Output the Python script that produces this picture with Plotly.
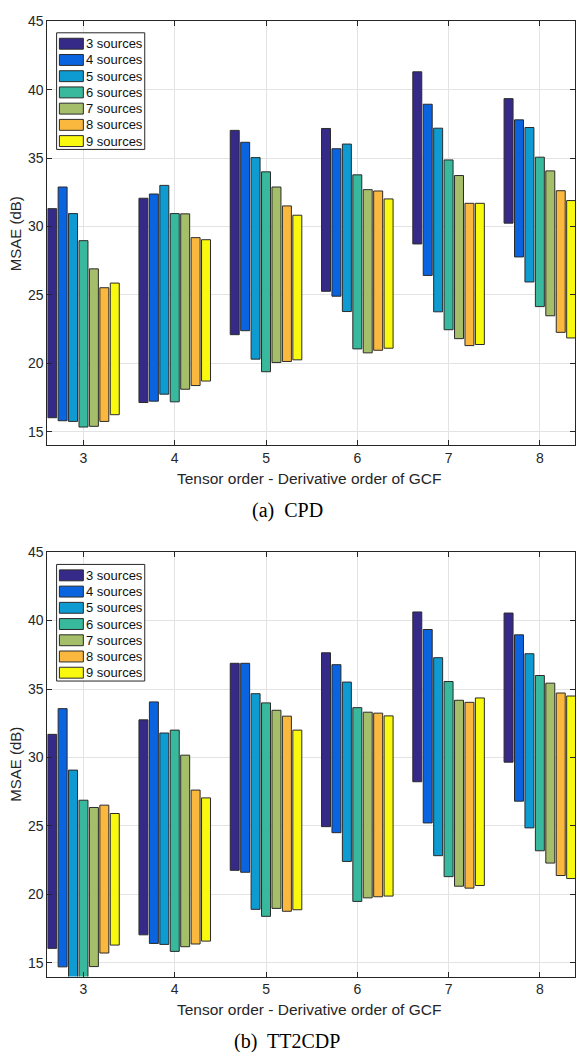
import plotly.graph_objects as go

# Tensor order - derivative order of GCF (x positions of the bar groups)
orders = [3, 4, 5, 6, 7, 8]
source_labels = ["3 sources", "4 sources", "5 sources", "6 sources",
                 "7 sources", "8 sources", "9 sources"]
colors = ["#352A87", "#0A63DF", "#0D9BD2", "#38B89C",
          "#A5BE6A", "#FBB83F", "#F9F90F"]

# CPD: upper / lower MSAE (dB) for each source count (rows) vs order (cols)
cpd_high = [
    [31.3, 32.06, 37.02, 37.16, 41.3, 39.34],
    [32.88, 32.37, 36.15, 35.68, 38.93, 37.79],
    [30.94, 33.0, 35.03, 36.02, 37.18, 37.23],
    [28.96, 30.94, 33.99, 33.77, 34.86, 35.06],
    [26.9, 30.92, 32.88, 32.69, 33.72, 34.06],
    [25.52, 29.18, 31.5, 32.59, 31.69, 32.61],
    [25.86, 29.03, 30.82, 32.01, 31.69, 31.89],
]
cpd_low = [
    [16.02, 17.13, 22.09, 25.26, 28.72, 30.24],
    [15.8, 17.23, 22.38, 24.9, 26.42, 27.77],
    [15.75, 17.74, 20.3, 23.78, 23.76, 25.94],
    [15.34, 17.18, 19.38, 21.05, 22.45, 24.14],
    [15.39, 18.1, 20.06, 20.76, 21.8, 23.47],
    [15.75, 18.37, 20.13, 20.95, 21.29, 22.26],
    [16.24, 18.7, 20.25, 21.1, 21.37, 21.85],
]

# TT2CDP: upper / lower MSAE (dB)
tt_high = [
    [31.69, 32.75, 36.88, 37.65, 40.63, 40.55],
    [33.57, 34.06, 36.88, 36.78, 39.35, 38.96],
    [29.08, 31.79, 34.66, 35.51, 37.29, 37.58],
    [26.88, 32.0, 33.99, 33.64, 35.55, 35.99],
    [26.35, 30.17, 33.45, 33.31, 34.18, 35.43],
    [26.52, 27.62, 33.02, 33.24, 34.03, 34.71],
    [25.91, 27.05, 32.0, 33.04, 34.35, 34.49],
]
tt_low = [
    [16.06, 17.05, 21.76, 24.95, 28.23, 29.66],
    [14.71, 16.42, 21.62, 24.51, 25.22, 26.81],
    [13.6, 16.35, 18.91, 22.41, 22.83, 24.86],
    [13.6, 15.84, 18.4, 19.49, 21.3, 23.19],
    [14.73, 16.18, 18.98, 19.75, 20.6, 22.29],
    [15.72, 16.38, 18.77, 19.83, 20.46, 21.38],
    [16.3, 16.59, 18.88, 19.88, 20.65, 21.16],
]

y_ticks = [15, 20, 25, 30, 35, 40, 45]

W, H = 576, 1052
INK = "#262626"
SANS = "Liberation Sans, Arial, Helvetica, sans-serif"
SERIF = "Liberation Serif, Times New Roman, serif"


def px(x):
    return x / W


def py(y):
    return 1 - y / H


fig = go.Figure()

panels = [
    ("x", "y", cpd_low, cpd_high),
    ("x2", "y2", tt_low, tt_high),
]
for xa, ya, lows, highs in panels:
    for i, label in enumerate(source_labels):
        fig.add_trace(go.Bar(
            x=orders,
            y=[h - l for h, l in zip(highs[i], lows[i])],
            base=lows[i],
            name=label,
            offsetgroup=str(i),
            marker=dict(color=colors[i], line=dict(color="#2b2b2b", width=1)),
            showlegend=False,
            xaxis=xa, yaxis=ya,
        ))

axis_common = dict(
    showline=True, linecolor=INK, linewidth=1, mirror="ticks",
    ticks="inside", ticklen=5, tickcolor=INK, tickwidth=1,
    showgrid=True, gridcolor="#e3e3e3", gridwidth=1,
    zeroline=False,
    tickfont=dict(family=SANS, size=14, color=INK),
)

x_dom = [px(47.5), 1.0]
top_dom = [py(440.7), py(13.3)]
bot_dom = [py(976.0), py(548.3)]

fig.update_layout(
    width=W, height=H,
    margin=dict(l=0, r=0, t=0, b=0),
    paper_bgcolor="white", plot_bgcolor="white",
    barmode="group", bargap=0.2, bargroupgap=0.14,
    showlegend=False,
    xaxis=dict(domain=x_dom, range=[2.605, 8.385], tickvals=orders,
               anchor="y", **axis_common),
    yaxis=dict(domain=top_dom, range=[14, 45], tickvals=y_ticks,
               anchor="x", **axis_common),
    xaxis2=dict(domain=x_dom, range=[2.605, 8.385], tickvals=orders,
                anchor="y2", **axis_common),
    yaxis2=dict(domain=bot_dom, range=[14, 45], tickvals=y_ticks,
                anchor="x2", **axis_common),
)

shapes = []
annotations = []

# Legends, axis titles and captions for both panels
panel_geom = [
    # legend box top, y-axis center, x-title y, caption y, caption text
    (25.0, 227.5, 474.0, 506.5, "(a)\u00a0 CPD"),
    (560.7, 762.0, 1009.0, 1041.0, "(b)\u00a0 TT2CDP"),
]
for box_top, ymid, xt_y, cap_y, caption in panel_geom:
    box_bottom = box_top + 117.5
    shapes.append(dict(
        type="rect", xref="paper", yref="paper", layer="above",
        x0=px(56.7), x1=px(145.0), y0=py(box_bottom), y1=py(box_top),
        line=dict(color=INK, width=1), fillcolor="white",
    ))
    for i, label in enumerate(source_labels):
        cy = box_top + 11.0 + i * 16.35
        shapes.append(dict(
            type="rect", xref="paper", yref="paper", layer="above",
            x0=px(59.5), x1=px(83.5), y0=py(cy + 5.5), y1=py(cy - 5.5),
            line=dict(color="#2b2b2b", width=1), fillcolor=colors[i],
        ))
        annotations.append(dict(
            text=label, xref="paper", yref="paper",
            x=px(84.5), y=py(cy), xanchor="left", yanchor="middle",
            showarrow=False, font=dict(family=SANS, size=13, color="#111111"),
        ))
    annotations.append(dict(
        text="MSAE (dB)", xref="paper", yref="paper", textangle=-90,
        x=px(15.5), y=py(ymid), xanchor="center", yanchor="middle",
        showarrow=False, font=dict(family=SANS, size=15, color=INK),
    ))
    annotations.append(dict(
        text="Tensor order - Derivative order of GCF",
        xref="paper", yref="paper",
        x=px(310.0), y=py(xt_y), xanchor="center", yanchor="middle",
        showarrow=False, font=dict(family=SANS, size=15.5, color=INK),
    ))
    annotations.append(dict(
        text=caption, xref="paper", yref="paper",
        x=px(287.5), y=py(cap_y), xanchor="center", yanchor="middle",
        showarrow=False, font=dict(family=SERIF, size=20, color="#000000"),
    ))

fig.update_layout(shapes=shapes, annotations=annotations)

fig.write_html("out.html")
